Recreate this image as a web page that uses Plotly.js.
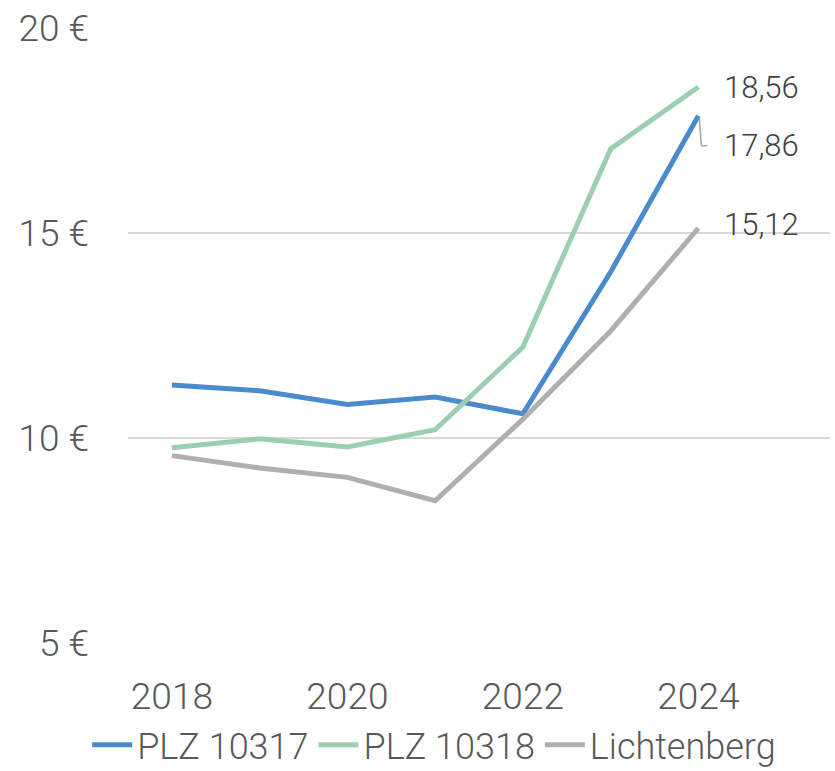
<!DOCTYPE html>
<html><head><meta charset="utf-8">
<script src="https://cdn.plot.ly/plotly-3.0.1.min.js"></script>
<style>html,body{margin:0;padding:0;background:#fff}#c{width:835px;height:771px}</style>
</head><body><div id="c"></div>
<script>
const years = [2018, 2019, 2020, 2021, 2022, 2023, 2024];
const plz10317 = [11.29, 11.15, 10.82, 11.0, 10.59, 14.05, 17.86];
const plz10318 = [9.76, 9.98, 9.78, 10.2, 12.22, 17.05, 18.56];
const lichtenberg = [9.57, 9.27, 9.04, 8.47, 10.46, 12.61, 15.12];
const seriesNames = ['PLZ 10317', 'PLZ 10318', 'Lichtenberg'];
const endLabels = ['17,86', '18,56', '15,12'];
const yTickVals = [5, 10, 15, 20];
const yTickText = ['5 €', '10 €', '15 €', '20 €'];
const xTickVals = [2018, 2020, 2022, 2024];

const colors = ['#4a8bcd', '#9ccfb1', '#afafaf'];
const tickFont = {family: 'Roboto, "Liberation Sans", sans-serif', size: 37, weight: 300, color: '#595959'};
const legendFont = {family: 'Roboto, "Liberation Sans", sans-serif', size: 36, weight: 300, color: '#595959'};
const labelFont = {family: 'Roboto, "Liberation Sans", sans-serif', size: 31, weight: 300, color: '#404040'};

const data = [plz10317, plz10318, lichtenberg].map((v, i) => ({
  x: years, y: v, type: 'scatter', mode: 'lines', name: seriesNames[i],
  line: {color: colors[i], width: 5}, hoverinfo: 'skip'
}));

const last = years[years.length - 1];
const shifts = [[24, -30], [24, 0], [24, 4]];
const vals = [plz10317, plz10318, lichtenberg];
const annotations = vals.map((v, i) => ({
  x: last, y: v[v.length - 1], xref: 'x', yref: 'y', text: endLabels[i],
  showarrow: false, xanchor: 'left', yanchor: 'middle',
  xshift: shifts[i][0], yshift: shifts[i][1], font: labelFont
}));

const layout = {
  width: 835, height: 771,
  margin: {l: 128, r: 5, t: 28, b: 128},
  paper_bgcolor: '#fff', plot_bgcolor: '#fff',
  showlegend: true,
  legend: {orientation: 'h', xref: 'container', yref: 'container', x: 0.52, xanchor: 'center',
    y: 0.034, yanchor: 'middle', font: legendFont, itemwidth: 40,
    bgcolor: 'rgba(0,0,0,0)', tracegroupgap: 0, traceorder: 'normal'},
  xaxis: {range: [2017.5, 2025.5], tickvals: xTickVals, showgrid: false, zeroline: false,
    showline: false, ticks: '', tickfont: tickFont, ticklabelstandoff: 28, fixedrange: true, automargin: false},
  yaxis: {range: [5, 20], tickvals: yTickVals, ticktext: yTickText, showgrid: true,
    gridcolor: '#d9d9d9', gridwidth: 2, zeroline: false, showline: false, ticks: '',
    tickfont: tickFont, ticklabelstandoff: 38, fixedrange: true, automargin: false},
  annotations: annotations,
  shapes: [{
    type: 'path', xref: 'x', yref: 'y', xsizemode: 'pixel', ysizemode: 'pixel',
    xanchor: last, yanchor: plz10317[plz10317.length - 1],
    path: 'M1,-3 L3,-30 L9,-30', line: {color: '#a6a6a6', width: 1.5}
  }]
};
Plotly.newPlot('c', data, layout, {displayModeBar: false, staticPlot: true});
</script></body></html>
